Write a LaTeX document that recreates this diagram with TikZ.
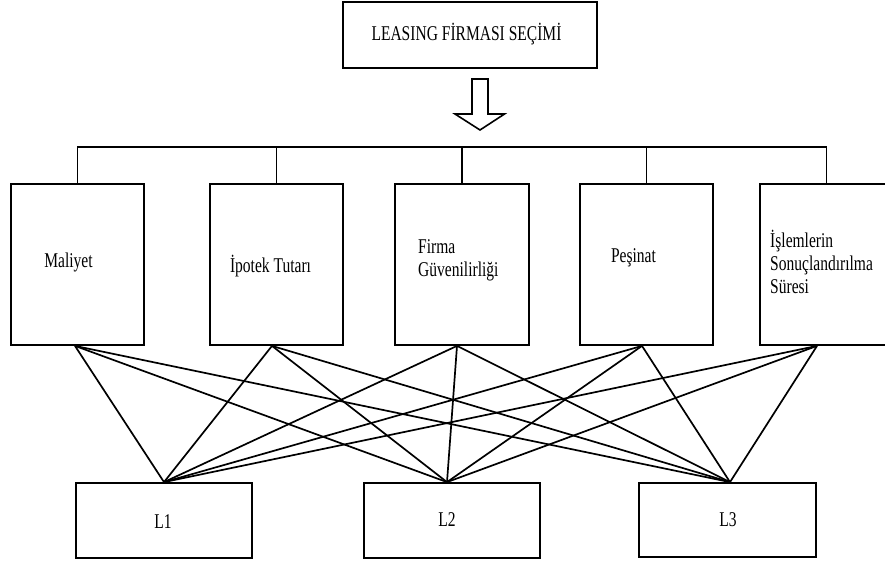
\documentclass[tikz,border=0pt]{standalone}
\usepackage{fontspec}
\setmainfont{Liberation Serif}
\newfontfamily\tfont[FakeStretch=0.74]{Liberation Serif}
\begin{document}
\begin{tikzpicture}[x=1pt,y=-1pt,
  box/.style={draw,line width=1.8pt,inner sep=0pt},
  lbl/.style={font=\tfont\fontsize{21}{23}\selectfont,inner sep=0pt},
  link/.style={line width=1.7pt},
  line join=miter]
\clip (0,0) rectangle (885,560);
\useasboundingbox (0,0) rectangle (885,560);
% top box
\node[box,minimum width=254pt,minimum height=66pt] (top) at (470,35) {};
\node[lbl] (toptxt) at (466.5,34) {LEASING FİRMASI SEÇİMİ};
% block arrow
\coordinate (arr) at (480,79);
\draw[line width=1.6pt] (arr) ++(-8,0) -- ++(16,0) -- ++(0,35) -- ++(16.5,0) -- (480,130) -- (455,114) -- ++(17,0) -- cycle;
% criteria boxes
\node[box,minimum width=133pt,minimum height=161pt] (mal) at (77.5,264.5) {};
\node[box,minimum width=133pt,minimum height=161pt] (ipo) at (276.5,264.5) {};
\node[box,minimum width=134pt,minimum height=161pt] (fir) at (462,264.5) {};
\node[box,minimum width=133pt,minimum height=161pt] (pes) at (646.5,264.5) {};
\node[box,minimum width=133pt,minimum height=161pt] (isl) at (826.5,264.5) {};
% labels
\node[lbl] (maltxt) at (68.5,262) {Maliyet};
\node[lbl] (ipotxt) at (270.5,266) {İpotek Tutarı};
\node[lbl,align=left,anchor=west] (firtxt) at (418,260) {Firma\\Güvenilirliği};
\node[lbl] (pestxt) at (633.5,258) {Peşinat};
\node[lbl,align=left,anchor=west] (isltxt) at (770,262) {İşlemlerin\\Sonuçlandırılma\\Süresi};
% bus
\coordinate (busy) at (0,147);
\draw[link] (mal.north) -- (mal.north |- busy) -- (isl.north |- busy) -- (isl.north);
\foreach \n in {ipo,fir,pes} \draw[link] (\n.north) -- (\n.north |- busy);
% alternatives
\node[box,minimum width=176pt,minimum height=75pt] (l1) at (164,520.5) {};
\node[box,minimum width=176pt,minimum height=75pt] (l2) at (452,520.5) {};
\node[box,minimum width=177pt,minimum height=74pt] (l3) at (727.5,520) {};
\node[lbl] (l1txt) at (163,522) {L1};
\node[lbl] (l2txt) at (447,520) {L2};
\node[lbl] (l3txt) at (728,520) {L3};
% anchor points
\coordinate (mb) at ([xshift=-2.5pt]mal.south);
\coordinate (ib) at ([xshift=-4.5pt]ipo.south);
\coordinate (fb) at ([xshift=-5pt]fir.south);
\coordinate (pb) at ([xshift=-4.5pt]pes.south);
\coordinate (sb) at ([xshift=-9.5pt]isl.south);
\coordinate (a1) at (l1.north);
\coordinate (a2) at ([xshift=-5pt]l2.north);
\coordinate (a3) at ([xshift=2.5pt]l3.north);
\foreach \t in {mb,ib,fb,pb,sb}
  \foreach \b in {a1,a2,a3}
    \draw[link] (\t) -- (\b);
\end{tikzpicture}
\end{document}
